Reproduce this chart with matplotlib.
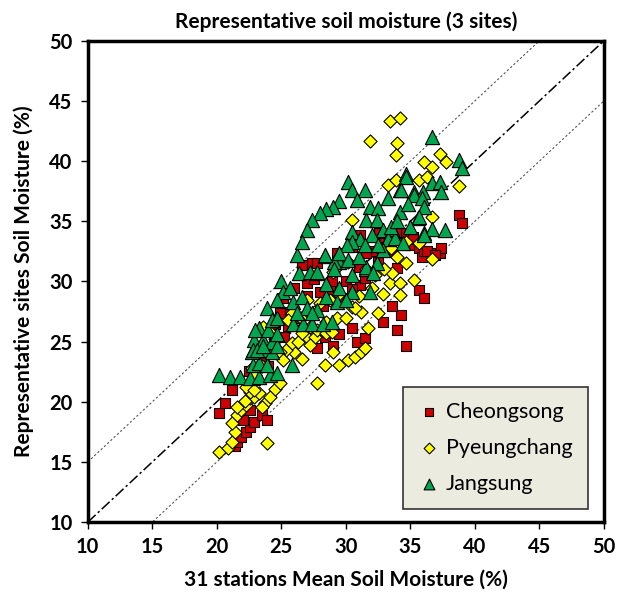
# Representative soil moisture at 3 sites vs. the 31-station mean

import matplotlib.pyplot as plt
import numpy as np

plt.rcParams['font.family'] = ['Lato', 'DejaVu Sans']

# Cheongsong (red squares)
cheong_x = [20.2, 20.6, 21.2, 21.4, 21.6, 21.9, 22.3, 22.6, 22.9, 23.5, 23.9, 22.6, 22.0,
            23.3, 22.5, 23.0, 23.5, 24.0, 24.5, 25.5, 26.2, 25.2, 24.9, 25.1, 25.7,
            26.7, 27.4, 27.0, 28.0, 28.9, 27.8, 28.4, 29.0, 29.5, 30.5, 30.9, 31.5,
            32.9, 34.0, 34.7, 34.3, 33.6, 31.1, 26.0, 27.0, 27.5, 28.2, 28.8, 29.5,
            30.0, 30.5, 31.0, 31.5, 32.0, 32.5, 33.0, 33.5, 34.0, 34.5, 35.0, 29.3,
            27.8, 26.6, 31.1, 32.6, 33.4, 33.9, 35.2, 32.9, 31.6, 30.5, 34.0, 35.2,
            35.7, 35.9, 36.7, 37.3, 37.4, 36.1, 36.3, 36.9, 35.7, 36.1, 38.8, 39.0]
cheong_y = [19.1, 19.9, 21.0, 16.3, 16.7, 17.1, 17.5, 17.9, 18.3, 18.9, 18.5, 19.3, 18.5,
            24.6, 22.6, 21.8, 23.8, 23.0, 26.5, 26.3, 27.0, 25.4, 27.4, 28.6, 27.5,
            31.4, 31.5, 29.9, 29.1, 30.0, 24.5, 25.4, 24.6, 25.6, 26.1, 25.0, 25.3,
            26.6, 26.0, 24.6, 27.2, 28.0, 29.7, 29.5, 28.8, 30.2, 28.0, 29.2, 28.6,
            30.0, 29.4, 31.2, 30.3, 32.5, 31.6, 33.2, 32.5, 33.5, 34.0, 33.0, 32.4,
            31.5, 31.4, 33.9, 34.0, 33.5, 34.1, 33.7, 32.9, 32.4, 32.9, 31.1, 33.5,
            32.8, 32.0, 32.4, 32.4, 32.8, 32.5, 32.5, 32.2, 29.3, 28.6, 35.5, 34.9]

# Pyeungchang (yellow diamonds)
pyeung_x = [20.2, 20.9, 21.2, 21.4, 21.2, 21.6, 21.9, 22.3, 22.6, 22.9, 23.3, 23.7, 24.1,
            23.5, 22.6, 24.5, 24.9, 23.9, 27.8, 28.4, 29.5, 30.2, 30.7, 31.2, 31.5,
            29.0, 26.6, 26.0, 25.4, 25.8, 26.3, 27.0, 27.6, 27.2, 27.8, 28.5, 26.6,
            24.9, 25.1, 30.5, 31.2, 31.7, 32.5, 32.9, 33.4, 34.2, 34.2, 35.3, 34.0,
            34.7, 29.3, 30.2, 29.0, 30.7, 29.3, 28.5, 27.2, 25.8, 23.6, 24.1, 22.7,
            22.7, 22.3, 22.9, 22.2, 21.6, 33.4, 34.2, 31.9, 34.0, 33.9, 30.5, 33.3,
            33.9, 35.7, 36.1, 36.7, 37.3, 37.8, 36.3, 34.7, 35.7, 36.7, 36.7, 38.8,
            33.6, 31.6, 28.9, 27.5, 28.0, 28.8, 29.5, 30.0, 31.0, 32.0, 32.3, 33.0,
            33.5, 26.5, 27.0, 25.5, 24.5, 24.0, 23.5, 23.0]
pyeung_y = [15.8, 16.2, 16.7, 17.5, 18.2, 18.9, 19.3, 19.7, 20.3, 20.4, 20.7, 19.9, 20.4,
            19.6, 20.8, 21.1, 21.6, 16.6, 21.6, 23.1, 23.1, 23.5, 23.7, 24.1, 24.5,
            24.1, 23.6, 24.1, 24.3, 24.9, 25.0, 25.4, 25.4, 24.7, 26.0, 25.7, 25.7,
            24.1, 23.5, 27.9, 27.5, 26.1, 27.4, 29.0, 29.9, 29.9, 28.9, 30.1, 32.0,
            31.5, 31.2, 31.6, 30.8, 27.8, 27.0, 26.6, 26.2, 27.4, 26.2, 25.8, 22.8,
            21.6, 21.2, 21.0, 20.1, 19.6, 43.3, 43.6, 41.7, 41.5, 40.5, 35.1, 38.0,
            38.4, 38.4, 39.9, 39.5, 40.6, 39.9, 38.7, 33.3, 33.2, 35.4, 31.9, 37.9,
            30.7, 31.0, 25.8, 27.5, 28.2, 28.5, 29.0, 27.0, 28.8, 29.5, 30.5, 31.0,
            32.8, 27.0, 28.5, 26.8, 25.2, 24.0, 23.0, 22.2]

# Jangsung (green triangles)
jang_x = [20.2, 21.0, 21.8, 22.6, 23.3, 24.1, 24.7, 22.8, 23.3, 23.9, 22.7, 23.2, 23.7,
          24.3, 22.9, 23.6, 24.3, 24.7, 23.3, 24.0, 24.7, 23.9, 24.3, 24.7, 25.0,
          25.1, 25.7, 25.9, 26.6, 27.0, 26.4, 26.2, 27.2, 27.8, 27.8, 25.9, 26.7,
          27.4, 28.2, 28.9, 29.3, 28.5, 29.5, 30.5, 31.6, 31.9, 25.8, 23.0, 22.8,
          28.4, 29.1, 27.4, 26.2, 24.7, 23.1, 23.6, 30.2, 30.5, 31.5, 29.5, 29.0,
          28.5, 28.0, 27.4, 27.0, 26.6, 30.9, 31.9, 32.5, 33.3, 34.2, 34.7, 35.3,
          36.0, 34.2, 35.6, 31.6, 32.4, 30.5, 32.9, 33.6, 31.1, 32.0, 33.3, 33.8,
          34.4, 36.1, 30.5, 30.1, 28.4, 29.5, 30.2, 31.6, 32.4, 32.9, 27.8, 29.1,
          32.1, 36.7, 38.8, 39.0, 34.7, 36.7, 37.3, 37.4, 35.3, 35.9, 34.8, 36.1,
          35.7, 36.7, 37.7, 36.1, 34.3, 30.5, 31.0, 31.5, 32.5, 33.5, 34.0, 35.0,
          29.5, 30.0, 28.5]
jang_y = [22.2, 22.1, 22.1, 22.0, 22.1, 22.2, 22.4, 23.1, 23.2, 23.1, 24.1, 24.3, 24.3,
          24.1, 25.1, 25.1, 25.0, 24.6, 26.1, 26.0, 25.6, 27.8, 26.8, 27.0, 30.0,
          29.1, 29.5, 28.3, 28.7, 27.8, 30.7, 32.2, 30.8, 30.7, 27.6, 26.5, 26.5,
          26.5, 26.5, 26.6, 28.3, 28.7, 31.6, 29.1, 31.0, 29.1, 23.1, 26.0, 24.3,
          32.1, 31.6, 27.4, 27.4, 28.5, 24.3, 24.6, 38.3, 37.6, 37.6, 36.7, 36.2,
          36.0, 35.7, 35.1, 34.3, 33.3, 36.8, 36.2, 36.1, 36.9, 37.6, 38.9, 37.4,
          37.4, 35.8, 35.3, 35.1, 35.1, 34.1, 34.3, 34.4, 33.5, 33.9, 33.5, 33.6,
          33.2, 34.0, 33.3, 33.0, 32.2, 32.4, 31.8, 31.2, 31.5, 32.6, 30.8, 31.0,
          30.7, 42.0, 40.1, 39.4, 38.7, 38.2, 38.3, 37.4, 37.2, 36.9, 36.4, 36.2,
          35.4, 34.4, 34.3, 33.9, 37.6, 30.5, 32.0, 33.0, 33.0, 34.5, 35.0, 34.5,
          29.5, 28.5, 29.8]

lims = np.array([10, 50])

fig = plt.figure(figsize=(6.27, 5.92), dpi=100)
ax = fig.add_axes([0.140, 0.118, 0.823, 0.813])

# 1:1 line and +-5 % bands
ax.plot(lims, lims, color='black', lw=1.1, linestyle=(0, (7, 2, 1.5, 2)), zorder=1)
ax.plot(lims, lims + 5, color='#555555', lw=0.8, linestyle=(0, (2, 2)), zorder=1)
ax.plot(lims, lims - 5, color='#555555', lw=0.8, linestyle=(0, (2, 2)), zorder=1)

ax.scatter(cheong_x, cheong_y, marker='s', s=50, color='#cc0000', edgecolor='black',
           linewidth=0.8, label='Cheongsong', zorder=3)
ax.scatter(pyeung_x, pyeung_y, marker='D', s=45, color='#ffff00', edgecolor='black',
           linewidth=0.8, label='Pyeungchang', zorder=4)
ax.scatter(jang_x, jang_y, marker='^', s=105, color='#00a550', edgecolor='black',
           linewidth=0.8, label='Jangsung', zorder=5)

ax.set_xlim(10, 50)
ax.set_ylim(10, 50)
ax.set_xticks(np.arange(10, 51, 5))
ax.set_yticks(np.arange(10, 51, 5))
for s in ax.spines.values():
    s.set_linewidth(2.5)
ax.tick_params(direction='out', length=5, width=1, labelsize=14.5, pad=6)
for lab in ax.get_xticklabels() + ax.get_yticklabels():
    lab.set_fontweight('bold')

ax.set_title('Representative soil moisture (3 sites)', fontsize=15, fontweight='bold', pad=9)
ax.set_xlabel('31 stations Mean Soil Moisture (%)', fontsize=15, fontweight='bold', labelpad=9)
ax.set_ylabel('Representative sites Soil Moisture (%)', fontsize=15, fontweight='bold', labelpad=11)

leg = ax.legend(loc='lower right', fontsize=15.5, frameon=True, fancybox=False,
                borderpad=0.7, labelspacing=0.75, handletextpad=0.3, handlelength=1.0,
                bbox_to_anchor=(0.99, 0.005), scatterpoints=1)
leg.get_frame().set_facecolor('#ebecdf')
leg.get_frame().set_edgecolor('#333333')
leg.get_frame().set_alpha(1)
leg.get_frame().set_linewidth(1.2)
for h, sz in zip(leg.legend_handles, [30, 30, 60]):
    h.set_sizes([sz])

plt.savefig('out.png', dpi=100)
